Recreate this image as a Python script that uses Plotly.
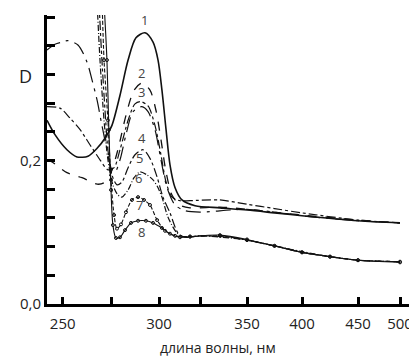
import numpy as np
import plotly.graph_objects as go

# ---- axis scale (non-uniform wavelength axis, as drawn in the original) ----
TICK_NM = [250, 275, 300, 325, 350, 400, 450, 500]
TICK_POS = [62.7, 111, 159, 200, 247, 302, 358, 400]
TICK_TEXT = ["250", "", "300", "", "350", "400", "450", "500"]

Y_TICKS = [0, 0.04, 0.08, 0.12, 0.16, 0.2, 0.24, 0.28, 0.32, 0.36, 0.4]
Y_TEXT = ["0,0", "", "", "", "", "0,2", "", "", "", "", "0,4"]

# ---- data: wavelength (nm) and optical density D ----
WL1 = [241.9, 246.0, 252.2, 257.4, 263.1, 267.8, 271.9, 275.5, 279.7, 283.9, 288.0, 292.7, 296.9, 299.5,
       301.8, 304.3, 306.7, 309.8, 314.0, 322.0, 335.6, 350, 375, 400, 450, 500]
D1 = [0.256, 0.236, 0.215, 0.205, 0.206, 0.217, 0.231, 0.249, 0.291, 0.340, 0.371, 0.378, 0.365, 0.340,
      0.298, 0.243, 0.194, 0.162, 0.145, 0.137, 0.134, 0.131, 0.127, 0.123, 0.116, 0.113]

WL2 = [241.9, 244.5, 252.2, 260.0, 267.8, 271.4, 274.5, 278.6, 282.8, 287.0, 291.1, 295.3, 298.4, 301.2,
       304.3, 307.9, 312.8, 318.9, 335.6, 350, 375, 400, 450, 500]
D2 = [0.201, 0.198, 0.183, 0.176, 0.167, 0.169, 0.180, 0.215, 0.263, 0.298, 0.308, 0.298, 0.270, 0.229,
      0.184, 0.152, 0.138, 0.134, 0.135, 0.132, 0.128, 0.124, 0.117, 0.113]

WL3 = [241.9, 248.6, 253.8, 259.0, 264.1, 269.3, 273.4, 276.6, 279.7, 283.9, 287.5, 290.6, 294.3, 297.9,
       301.2, 304.3, 307.9, 312.8, 318.9, 335.6, 350, 375, 400, 450, 500]
D3 = [0.275, 0.273, 0.259, 0.243, 0.222, 0.201, 0.187, 0.190, 0.215, 0.256, 0.279, 0.282, 0.276, 0.249,
      0.208, 0.170, 0.149, 0.144, 0.144, 0.145, 0.139, 0.133, 0.127, 0.117, 0.113]

WL4 = [241.9, 246.0, 249.6, 252.7, 257.9, 262.6, 265.2, 267.8, 270.3, 272.9, 275.0, 277.1, 279.7, 282.8,
       286.5, 291.1, 294.3, 297.9, 301.2, 304.9, 309.8, 315.9, 325, 341, 350, 375, 400, 450, 500]
D4 = [0.354, 0.362, 0.365, 0.367, 0.361, 0.337, 0.312, 0.284, 0.249, 0.215, 0.190, 0.184, 0.201, 0.236,
      0.268, 0.275, 0.268, 0.243, 0.201, 0.162, 0.138, 0.130, 0.128, 0.131, 0.132, 0.128, 0.123, 0.116, 0.113]

WL5 = [268.8, 270.3, 271.9, 273.4, 275.5, 278.1, 280.7, 283.9, 287.5, 291.7, 295.3, 299.0, 302.4, 306.7,
       311.6, 315.9, 325, 341, 350, 375, 400, 425, 450, 500]
D5 = [0.42, 0.340, 0.270, 0.215, 0.180, 0.166, 0.170, 0.190, 0.208, 0.215, 0.203, 0.177, 0.149, 0.127,
      0.099, 0.093, 0.095, 0.093, 0.089, 0.081, 0.072, 0.066, 0.061, 0.059]

WL6 = [267.8, 269.3, 271.4, 273.4, 276.0, 278.6, 280.7, 283.9, 287.0, 290.1, 293.7, 296.9, 299.5, 301.8,
       305.5, 311.0, 315.9, 325, 341, 350, 375, 400, 425, 450, 500]
D6 = [0.42, 0.340, 0.256, 0.201, 0.166, 0.152, 0.149, 0.159, 0.176, 0.184, 0.180, 0.173, 0.162, 0.149,
      0.121, 0.099, 0.093, 0.095, 0.092, 0.089, 0.081, 0.073, 0.066, 0.061, 0.059]

WL7 = [270.4, 271.4, 273.4, 275.0, 276.6, 278.1, 280.2, 282.8, 285.9, 289.1, 292.2, 295.3, 299.0, 303.7,
       309.8, 318.9, 335.6, 350, 375, 400, 425, 450, 500]
D7 = [0.42, 0.340, 0.256, 0.173, 0.124, 0.105, 0.111, 0.128, 0.145, 0.149, 0.145, 0.138, 0.117, 0.102,
      0.095, 0.094, 0.095, 0.089, 0.081, 0.072, 0.066, 0.061, 0.059]

WL8 = [271.4, 272.9, 273.9, 275.0, 276.0, 277.6, 279.7, 282.3, 285.4, 289.1, 293.2, 296.9, 301.8, 306.7,
       312.8, 318.9, 335.6, 350, 375, 400, 425, 450, 500]
D8 = [0.42, 0.340, 0.243, 0.159, 0.110, 0.092, 0.093, 0.103, 0.113, 0.116, 0.116, 0.113, 0.106, 0.098,
      0.093, 0.094, 0.096, 0.090, 0.081, 0.072, 0.066, 0.061, 0.058]

LABELS = ["1", "2", "3", "4", "5", "6", "7", "8"]
LABEL_WL = [292.7, 291.1, 291.1, 291.1, 290.1, 289.1, 289.6, 291.1]
LABEL_D = [0.396, 0.322, 0.295, 0.231, 0.203, 0.176, 0.138, 0.100]


def to_axis(nm):
    """Map wavelength onto the (non-uniform) drawn axis scale."""
    nm = np.asarray(nm, dtype=float)
    pos = np.interp(nm, TICK_NM, TICK_POS)
    slope0 = (TICK_POS[1] - TICK_POS[0]) / (TICK_NM[1] - TICK_NM[0])
    low = nm < TICK_NM[0]
    pos[low] = TICK_POS[0] + (nm[low] - TICK_NM[0]) * slope0
    return pos


series = [
    (WL1, D1, dict(width=1.6, dash="solid"), None),
    (WL2, D2, dict(width=1.3, dash="dash"), None),
    (WL3, D3, dict(width=1.2, dash="dashdot"), None),
    (WL4, D4, dict(width=1.2, dash="longdashdot"), None),
    (WL5, D5, dict(width=1.2, dash="dashdot"), None),
    (WL6, D6, dict(width=1.2, dash="6px,2px,1px,2px"), None),
    (WL7, D7, dict(width=1.1, dash="4px,2px"), "circle-open"),
    (WL8, D8, dict(width=1.1, dash="solid"), "circle-open"),
]

fig = go.Figure()
for wl, d, ln, mk in series:
    tr = dict(
        x=to_axis(wl), y=d,
        mode="lines+markers" if mk else "lines",
        line=dict(color="#111", shape="spline", smoothing=0.8, **ln),
        showlegend=False, hoverinfo="skip",
    )
    if mk:
        tr["marker"] = dict(symbol=mk, size=3, color="#111", line=dict(width=1))
    fig.add_trace(go.Scatter(**tr))

for t, wl, d in zip(LABELS, LABEL_WL, LABEL_D):
    fig.add_annotation(x=float(to_axis([wl])[0]), y=d, text=t, showarrow=False,
                       font=dict(family="Open Sans", size=13, color="#444"))

fig.add_annotation(xref="paper", yref="paper", x=-0.082, y=0.837, text="D", showarrow=False,
                   font=dict(family="Open Sans", size=18, color="#222"))
fig.add_annotation(xref="paper", yref="paper", x=0.462, y=-0.152, text="длина волны, нм",
                   showarrow=False, yanchor="middle",
                   font=dict(family="Open Sans", size=14, color="#222"))

fig.update_xaxes(
    range=[47, 417], showgrid=False, zeroline=False,
    showline=True, linecolor="#000", linewidth=3, mirror=False,
    tickmode="array", tickvals=TICK_POS, ticktext=TICK_TEXT,
    ticks="inside", ticklen=7, tickwidth=2.5, tickcolor="#000",
    tickfont=dict(family="Open Sans", size=15, color="#222"),
    ticklabelstandoff=4,
)
fig.update_yaxes(
    range=[0, 289 / 717.5], showgrid=False, zeroline=False,
    showline=True, linecolor="#000", linewidth=3, mirror=False,
    tickmode="array", tickvals=Y_TICKS, ticktext=Y_TEXT,
    ticks="inside", ticklen=8, tickwidth=2.5, tickcolor="#000",
    tickfont=dict(family="Open Sans", size=15, color="#222"),
)
# the page body has an 8px margin: shrink the figure so the plot area lands where the original's is
fig.update_layout(
    width=409, height=350,
    margin=dict(l=39, r=0, t=7, b=54),
    paper_bgcolor="white", plot_bgcolor="white",
)
fig.write_html("out.html")
